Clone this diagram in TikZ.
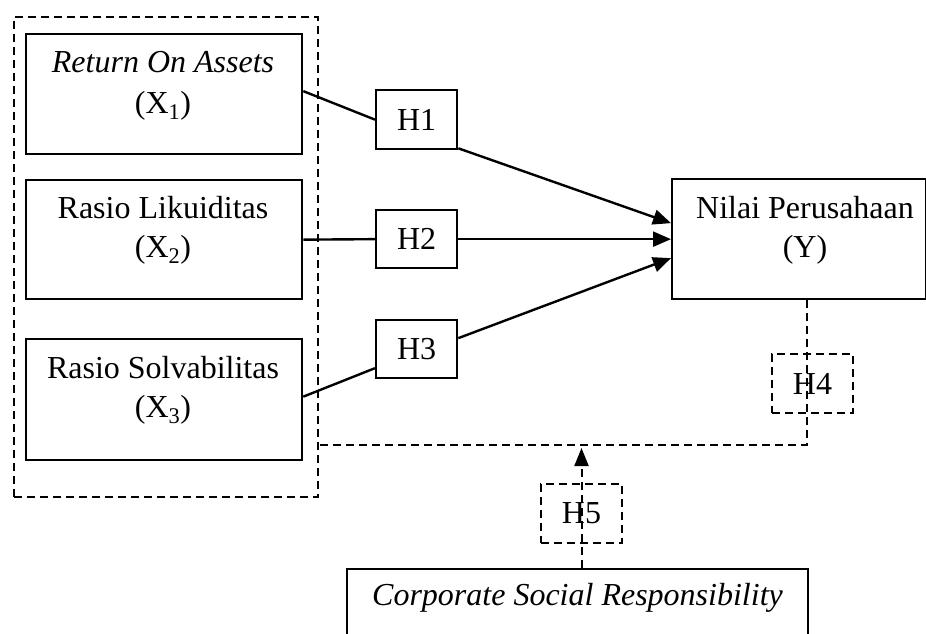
\documentclass[tikz,border=0pt]{standalone}
\usepackage{fontspec}
\setmainfont{Liberation Serif}
\usetikzlibrary{arrows.meta}
\begin{document}
\begin{tikzpicture}[x=1pt,y=-1pt,
  every node/.style={font=\fontsize{32}{40}\selectfont},
  box/.style={draw,line width=2.3pt,inner sep=0pt,anchor=north west},
  dbox/.style={draw,line width=2pt,dash pattern=on 8pt off 5pt,inner sep=0pt,anchor=north west},
  txt/.style={anchor=base,inner sep=0pt},
  conn/.style={line width=2.4pt},
  arr/.style={line width=2.4pt,-{Triangle[length=18pt,width=15pt]}},
  dline/.style={line width=2pt,dash pattern=on 8pt off 5pt}]
\clip (0,0) rectangle (926,634);
% group box
\node[dbox,minimum width=304pt,minimum height=480pt] (grp) at (13,16) {};
% variable boxes
\node[box,minimum width=276pt,minimum height=120pt] (roa) at (25,33) {};
\node[txt] (roa1) at (163,72) {\textit{Return On Assets}};
\node[txt] (roa2) at (163,113) {(X\textsubscript{1})};
\node[box,minimum width=276pt,minimum height=119pt] (lik) at (25,179) {};
\node[txt] (lik1) at (163,218) {Rasio Likuiditas};
\node[txt] (lik2) at (163,257) {(X\textsubscript{2})};
\node[box,minimum width=276pt,minimum height=121pt] (sol) at (25,338) {};
\node[txt] (sol1) at (163,378) {Rasio Solvabilitas};
\node[txt] (sol2) at (163,417) {(X\textsubscript{3})};
\node[box,minimum width=254pt,minimum height=120pt] (ybox) at (671,178) {};
\node[txt] (y1) at (805,218) {Nilai Perusahaan};
\node[txt] (y2) at (805,257) {(Y)};
% hypothesis boxes
\node[box,minimum width=81pt,minimum height=59pt] (h1) at (375,89) {H1};
\node[box,minimum width=81pt,minimum height=58pt] (h2) at (375,209) {H2};
\node[box,minimum width=81pt,minimum height=58pt] (h3) at (375,319) {H3};
\node[dbox,minimum width=81pt,minimum height=59pt] (h4) at (771,353) {H4};
\node[dbox,minimum width=81pt,minimum height=59pt] (h5) at (540,483) {H5};
% CSR box (bottom cut off)
\node[box,minimum width=461pt,minimum height=90pt] (csr) at (346,568) {};
\node[txt] (csr1) at (577.5,605) {\textit{Corporate Social Responsibility}};
% solid connectors
\draw[conn] ([yshift=3pt]roa.east) -- (h1.west);
\draw[arr] ([yshift=2pt]h1.south east) -- ([yshift=16pt]ybox.west);
\draw[conn] (lik.east) -- (h2.west);
\draw[arr] (h2.east) -- (ybox.west);
\draw[conn] ([yshift=3pt]sol.east) -- ([yshift=-19pt]h3.west);
\draw[arr] ([yshift=11pt]h3.east) -- ([yshift=-19pt]ybox.west);
% dashed moderation
\coordinate (c4) at (807,445);
\draw[dline] (ybox.south -| c4) -- (c4) -- (c4 -| grp.east);
\draw[dline,-{Triangle[length=18pt,width=14pt]}] (csr.north -| h5.center) -- ([yshift=-3pt]h5.center |- c4);
\end{tikzpicture}
\end{document}
